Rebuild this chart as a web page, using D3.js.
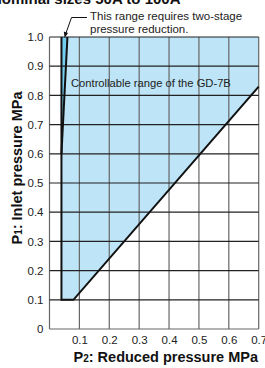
<!DOCTYPE html>
<html>
<head>
<meta charset="utf-8">
<script src="https://cdn.jsdelivr.net/npm/d3@7"></script>
<style>
  body { margin: 0; background: #fff; }
  svg { display: block; font-family: "Liberation Sans", Arial, sans-serif; }
</style>
</head>
<body>
<div class="canvas"></div>
<script>
// tick values
const xTicks = [0.1, 0.2, 0.3, 0.4, 0.5, 0.6, 0.7];
const yTicks = [0, 0.1, 0.2, 0.3, 0.4, 0.5, 0.6, 0.7, 0.8, 0.9, 1.0];

// controllable range outline (P2, P1)
const rangeP2 = [0.04, 0.04, 0.7, 0.7, 0.08];
const rangeP1 = [0.1, 1.0, 1.0, 0.83, 0.1];

// two-stage reduction wedge
const twoStageP2 = [0.04, 0.04, 0.06];
const twoStageP1 = [0.6, 1.0, 1.0];

// dimensions
const dims = { width: 265, height: 368 };
const plot = { left: 49.5, right: 258.7, top: 37, bottom: 329 };

const svg = d3
  .select(".canvas")
  .append("svg")
  .attr("width", dims.width)
  .attr("height", dims.height);

// scales
const x = d3.scaleLinear().domain([0, 0.7]).range([plot.left, plot.right]);
const y = d3.scaleLinear().domain([0, 1.0]).range([plot.bottom, plot.top]);

// cropped heading at the top
svg
  .append("text")
  .attr("x", -9)
  .attr("y", 4)
  .attr("font-size", 15)
  .attr("font-weight", "bold")
  .attr("fill", "#111")
  .text("Nominal sizes 50A to 100A");

const line = d3
  .line()
  .x((d) => x(d[0]))
  .y((d) => y(d[1]));

const range = rangeP2.map((v, i) => [v, rangeP1[i]]);
const wedge = twoStageP2.map((v, i) => [v, twoStageP1[i]]);

// fills
svg
  .append("path")
  .attr("d", line(range) + "Z")
  .attr("fill", "#bde5f7");

svg
  .append("path")
  .attr("d", line(wedge) + "Z")
  .attr("fill", "#74ccef");

// grid
const grid = svg.append("g");
grid
  .selectAll("line.v")
  .data([0].concat(xTicks))
  .enter()
  .append("line")
  .attr("x1", (d) => x(d))
  .attr("x2", (d) => x(d))
  .attr("y1", y(0))
  .attr("y2", y(1))
  .attr("stroke", "#666")
  .attr("stroke-width", 1.2);

grid
  .selectAll("line.h")
  .data(yTicks)
  .enter()
  .append("line")
  .attr("x1", x(0))
  .attr("x2", x(0.7))
  .attr("y1", (d) => y(d))
  .attr("y2", (d) => y(d))
  .attr("stroke", (d) => (d === 0 ? "#666" : "#222"))
  .attr("stroke-width", 1.2);

// outline of controllable range (left, bottom, diagonal)
svg
  .append("path")
  .attr("d", line([range[1], range[0], range[4], range[3]]))
  .attr("fill", "none")
  .attr("stroke", "#111")
  .attr("stroke-width", 2);

// two-stage boundary
svg
  .append("path")
  .attr("d", line([wedge[0], wedge[2]]))
  .attr("fill", "none")
  .attr("stroke", "#111")
  .attr("stroke-width", 2);

// axes labels
const yAxis = d3
  .axisLeft(y)
  .tickValues(yTicks)
  .tickSize(0)
  .tickPadding(6)
  .tickFormat((d) => (d === 0 ? "0" : d3.format(".1f")(d)));
svg
  .append("g")
  .attr("transform", `translate(${plot.left},0)`)
  .call(yAxis)
  .call((g) => g.select(".domain").remove())
  .selectAll("text")
  .attr("font-size", 11.5)
  .attr("font-family", "Liberation Sans, Arial, sans-serif")
  .attr("fill", "#222");

const xAxis = d3
  .axisBottom(x)
  .tickValues(xTicks)
  .tickSize(0)
  .tickPadding(7)
  .tickFormat(d3.format(".1f"));
svg
  .append("g")
  .attr("transform", `translate(0,${plot.bottom})`)
  .call(xAxis)
  .call((g) => g.select(".domain").remove())
  .selectAll("text")
  .attr("font-size", 11.5)
  .attr("font-family", "Liberation Sans, Arial, sans-serif")
  .attr("fill", "#222");

// axis titles
const xTitle = svg
  .append("text")
  .attr("x", 258)
  .attr("y", 362)
  .attr("text-anchor", "end")
  .attr("font-size", 14.5)
  .attr("font-weight", "bold")
  .attr("fill", "#111");
xTitle.append("tspan").text("P");
xTitle.append("tspan").attr("font-size", 10).text("2");
xTitle.append("tspan").text(": Reduced pressure MPa");

const yTitle = svg
  .append("text")
  .attr("transform", "translate(22,168) rotate(-90)")
  .attr("text-anchor", "middle")
  .attr("font-size", 14.5)
  .attr("font-weight", "bold")
  .attr("fill", "#111");
yTitle.append("tspan").text("P");
yTitle.append("tspan").attr("font-size", 10).text("1");
yTitle.append("tspan").text(": Inlet pressure MPa");

// annotations
svg
  .append("text")
  .attr("x", 71)
  .attr("y", 87)
  .attr("font-size", 11.2)
  .attr("fill", "#222")
  .text("Controllable range of the GD-7B");

const note = svg
  .append("text")
  .attr("font-size", 11.5)
  .attr("fill", "#222");
note.append("tspan").attr("x", 90).attr("y", 19.5).text("This range requires two-stage");
note.append("tspan").attr("x", 90).attr("y", 32.5).text("pressure reduction.");

// leader line with arrow
svg
  .append("path")
  .attr("d", "M87,17.5 H71.5 L66,33")
  .attr("fill", "none")
  .attr("stroke", "#111")
  .attr("stroke-width", 1);
svg
  .append("path")
  .attr("d", "M64.6,38 L63.8,31.6 L68,33 Z")
  .attr("fill", "#111");
</script>
</body>
</html>
